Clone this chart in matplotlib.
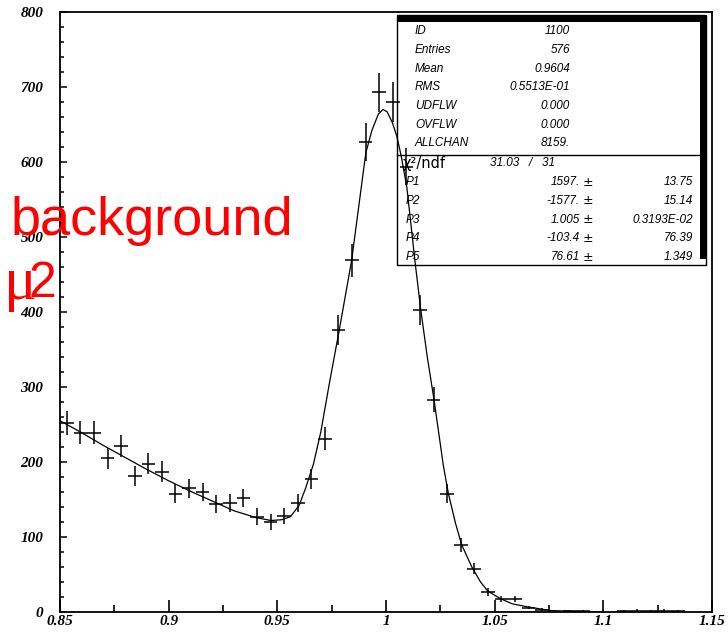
import numpy as np
import matplotlib
matplotlib.use("Agg")
import matplotlib.pyplot as plt
from matplotlib.patches import Rectangle
from matplotlib.ticker import MultipleLocator, FixedLocator

# histogram: 48 bins of 0.00625 from 0.85 to 1.15
bin_lo = 0.85
bin_w = 0.00625
counts = [252, 239, 239, 205, 221, 181, 198, 187, 158, 165, 160, 144,
          145, 152, 127, 120, 128, 145, 177, 231, 376, 469, 627, 693,
          680, 594, 403, 283, 158, 89, 58, 27, 17, 17, 6, 3,
          0, 1, 1, 0, 0, 1, 2, 1, 2, 1, 0, 0]
errors = [15.9, 15.5, 15.5, 14.3, 14.9, 13.5, 14.1, 13.7, 12.6, 12.8, 12.6, 12.0,
          12.0, 12.3, 11.3, 11.0, 11.3, 12.0, 13.3, 15.2, 19.4, 21.7, 25.0, 26.3,
          26.1, 24.4, 20.1, 16.8, 12.6, 9.4, 7.6, 5.2, 4.1, 4.1, 2.4, 1.7,
          0, 1.5, 1.5, 0, 0, 1.5, 2.5, 1.5, 2.5, 1.5, 0, 0]

# fit curve
curve_x = [0.85, 0.86, 0.87, 0.88, 0.89, 0.90, 0.91, 0.92, 0.93, 0.94,
           0.947, 0.952, 0.956, 0.960, 0.963, 0.9666, 0.970, 0.9742, 0.9785, 0.9842,
           0.9907, 0.9935, 0.9965, 0.9986, 1.0005, 1.003, 1.005, 1.007, 1.0096, 1.0134,
           1.016, 1.019, 1.0221, 1.0264, 1.0287, 1.032, 1.0349, 1.0395, 1.0435, 1.0468,
           1.0525, 1.058, 1.0648, 1.0755, 1.09, 1.10]
curve_y = [255, 239, 222, 206, 190, 175, 161, 148, 135, 126,
           122, 123, 127, 142, 165, 197, 240, 309, 376, 469,
           612, 642, 664, 670, 667, 652, 634, 608, 566, 466,
           403, 340, 283, 195, 158, 118, 89, 60, 40, 28,
           18, 11, 7, 2, 0.5, 0]

x_ticks = [0.85, 0.9, 0.95, 1.0, 1.05, 1.1, 1.15]
x_ticklabels = ["0.85", "0.9", "0.95", "1", "1.05", "1.1", "1.15"]
y_ticks = [0, 100, 200, 300, 400, 500, 600, 700, 800]

stat_labels = ["ID", "Entries", "Mean", "RMS", "UDFLW", "OVFLW", "ALLCHAN"]
stat_values = ["1100", "576", "0.9604", "0.5513E-01", "0.000", "0.000", "8159."]
chi2_text = "31.03   /   31"
par_names = ["P1", "P2", "P3", "P4", "P5"]
par_values = ["1597.", "-1577.", "1.005", "-103.4", "76.61"]
par_errors = ["13.75", "15.14", "0.3193E-02", "76.39", "1.349"]

W, H = 728, 634
fig = plt.figure(figsize=(W / 100, H / 100), dpi=100)
fig.patch.set_facecolor("white")

def fx(px):
    return px / W

def fy(py):
    return 1 - py / H

ax = fig.add_axes([fx(60), fy(612), fx(712) - fx(60), fy(12) - fy(612)])

centers = np.array([bin_lo + (i + 0.5) * bin_w for i in range(len(counts))])
c = np.array(counts, dtype=float)
e = np.array(errors, dtype=float)
keep = c > 0
ax.errorbar(centers[keep], c[keep], xerr=bin_w / 2, yerr=e[keep], fmt="none",
            ecolor="black", elinewidth=1.1, capsize=0)
ax.plot(curve_x, curve_y, color="black", lw=0.9)

ax.set_xlim(0.85, 1.15)
ax.set_ylim(0, 800)
for s in ax.spines.values():
    s.set_linewidth(1.3)

ax.xaxis.set_major_locator(FixedLocator(x_ticks))
ax.set_xticklabels(x_ticklabels)
ax.xaxis.set_minor_locator(MultipleLocator(0.025))
ax.yaxis.set_major_locator(FixedLocator(y_ticks))
ax.yaxis.set_minor_locator(MultipleLocator(20))
ax.tick_params(axis="x", which="major", direction="in", length=9, width=1.2, pad=2)
ax.tick_params(axis="x", which="minor", direction="in", length=5, width=1.2)
ax.tick_params(axis="y", which="major", direction="in", length=5, width=1.1, pad=12)
ax.tick_params(axis="y", which="minor", direction="in", length=3, width=1.1)
for lab in ax.get_xticklabels() + ax.get_yticklabels():
    lab.set_fontfamily("Liberation Serif")
    lab.set_fontweight("bold")
    lab.set_fontstyle("italic")
    lab.set_fontsize(11)

# stats box
bx0, bx1, by0, by1, bdiv = 397, 706, 15, 265, 155
fig.add_artist(Rectangle((fx(bx0), fy(by1)), fx(bx1) - fx(bx0), fy(by0) - fy(by1),
                         transform=fig.transFigure, fill=False, ec="black", lw=1.0))
fig.add_artist(Rectangle((fx(bx0), fy(22)), fx(bx1) - fx(bx0), fy(by0) - fy(22),
                         transform=fig.transFigure, fc="black", ec="none"))
fig.add_artist(Rectangle((fx(700), fy(259)), fx(bx1) - fx(700), fy(by0) - fy(259),
                         transform=fig.transFigure, fc="black", ec="none"))
fig.add_artist(plt.Line2D([fx(bx0), fx(bx1)], [fy(bdiv), fy(bdiv)],
                          transform=fig.transFigure, color="black", lw=1.0))

sfont = dict(family="Liberation Sans", style="italic", size=8.5, va="center")
for i, (lab, val) in enumerate(zip(stat_labels, stat_values)):
    yy = 31.5 + i * 18.6
    fig.text(fx(415), fy(yy), lab, ha="left", **sfont)
    fig.text(fx(570), fy(yy), val, ha="right", **sfont)

fig.text(fx(403), fy(164), "χ²/ndf", ha="left", va="center", family="DejaVu Sans", size=10.5)
fig.text(fx(490), fy(163), chi2_text, ha="left", **sfont)
for i, (nm, val, err) in enumerate(zip(par_names, par_values, par_errors)):
    yy = 182 + i * 18.8
    fig.text(fx(406), fy(yy), nm, ha="left", **sfont)
    fig.text(fx(580), fy(yy), val, ha="right", **sfont)
    fig.text(fx(588), fy(yy), "±", ha="center", va="center", family="DejaVu Sans", size=9)
    fig.text(fx(693), fy(yy), err, ha="right", **sfont)

# red overlay text
fig.text(fx(11), fy(235), "background", color="red", family="Liberation Sans",
         size=39, ha="left", va="baseline")
fig.text(fx(56), fy(297), "2", color="red", family="Liberation Sans",
         size=36, ha="right", va="baseline")
fig.text(fx(37), fy(299), "μ", color="red", family="Liberation Serif",
         size=44, ha="right", va="baseline")

fig.savefig("out.png", dpi=100, facecolor="white")
